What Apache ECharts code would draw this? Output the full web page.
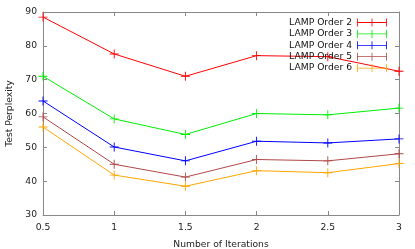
<!DOCTYPE html>
<html><head><meta charset="utf-8">
<script src="https://cdn.jsdelivr.net/npm/echarts@6/dist/echarts.min.js"></script>
<style>html,body{margin:0;padding:0;background:#fff}#c{width:415px;height:249px}</style>
</head><body><div id="c"></div>
<script>
const iterations = [0.5, 1, 1.5, 2, 2.5, 3];
const seriesNames = ['LAMP Order 2','LAMP Order 3','LAMP Order 4','LAMP Order 5','LAMP Order 6'];
const order2 = [88.5, 77.6, 71.0, 77.1, 76.8, 72.5];
const order3 = [71.0, 58.4, 53.8, 60.0, 59.6, 61.6];
const order4 = [63.7, 50.1, 46.0, 51.8, 51.3, 52.5];
const order5 = [59.0, 45.0, 41.2, 46.4, 46.0, 48.1];
const order6 = [56.0, 41.8, 38.5, 43.1, 42.5, 45.2];
const colors = ['#ff0000','#00ee00','#0000ff','#b04848','#ffa500'];
const allData = [order2, order3, order4, order5, order6];

const plus = 'path://M0 4.5H10V5.5H0Z M4.5 0H5.5V10H4.5Z';
const legendIcon = 'path://M0 3.6H30V4.4H0Z M0 0H0.8V8H0Z M29.2 0H30V8H29.2Z M14.6 0H15.4V8H14.6Z';
const font = 'DejaVu Sans';
const axisColor = '#888';
const fs = 9.2;

const series = allData.map((d, i) => ({
  name: seriesNames[i],
  type: 'line',
  data: iterations.map((x, j) => [x, d[j]]),
  symbol: plus,
  symbolSize: 9,
  showAllSymbol: true,
  itemStyle: {color: colors[i]},
  lineStyle: {color: colors[i], width: 1},
  emphasis: {disabled: true},
  animation: false
}));

const chart = echarts.init(document.getElementById('c'), null, {renderer: 'canvas'});
chart.setOption({
  animation: false,
  textStyle: {fontFamily: font},
  grid: {left: 43, right: 16, top: 12, bottom: 34, containLabel: false, outerBoundsMode: 'none'},
  legend: {
    orient: 'vertical', right: 28, top: 18, align: 'right', padding: 0,
    itemWidth: 30, itemHeight: 8, itemGap: 2.4,
    icon: legendIcon,
    textStyle: {fontFamily: font, fontSize: fs, color: '#111', lineHeight: 8, padding: [0, 0, 0, 0]},
    data: seriesNames.map(n => ({name: n, icon: legendIcon}))
  },
  xAxis: [{
    type: 'value', min: 0.5, max: 3, interval: 0.5,
    name: 'Number of Iterations', nameLocation: 'middle', nameGap: 25,
    nameTextStyle: {fontFamily: font, fontSize: fs, color: '#222'},
    axisLine: {show: true, lineStyle: {color: axisColor}},
    axisTick: {show: true, inside: true, length: 4, lineStyle: {color: axisColor}},
    axisLabel: {fontFamily: font, fontSize: fs, color: '#222', margin: 8},
    splitLine: {show: false}
  }, {
    type: 'value', position: 'top', min: 0.5, max: 3, interval: 0.5,
    axisLine: {show: true, lineStyle: {color: axisColor}},
    axisTick: {show: true, inside: true, length: 4, lineStyle: {color: axisColor}},
    axisLabel: {show: false}, splitLine: {show: false}
  }],
  yAxis: [{
    type: 'value', min: 30, max: 90, interval: 10,
    name: 'Test Perplexity', nameLocation: 'middle', nameGap: 29, nameRotate: 90,
    nameTextStyle: {fontFamily: font, fontSize: fs, color: '#222'},
    axisLine: {show: true, lineStyle: {color: axisColor}},
    axisTick: {show: true, inside: true, length: 4, lineStyle: {color: axisColor}},
    axisLabel: {fontFamily: font, fontSize: fs, color: '#222', margin: 6},
    splitLine: {show: false}
  }, {
    type: 'value', position: 'right', min: 30, max: 90, interval: 10,
    axisLine: {show: true, lineStyle: {color: axisColor}},
    axisTick: {show: true, inside: true, length: 4, lineStyle: {color: axisColor}},
    axisLabel: {show: false}, splitLine: {show: false}
  }],
  series: series
});
</script></body></html>
